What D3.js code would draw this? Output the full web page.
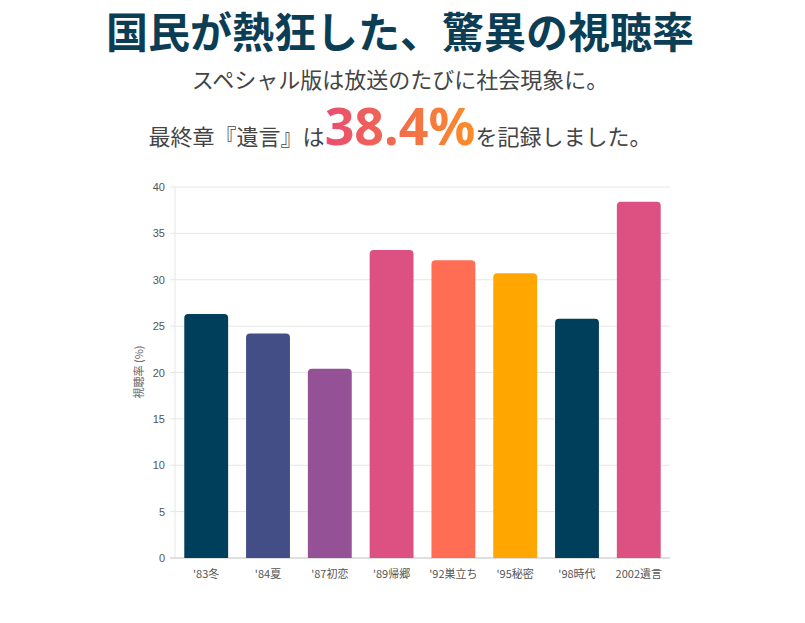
<!DOCTYPE html><html><head><meta charset="utf-8"><script src="https://cdn.jsdelivr.net/npm/d3@7"></script>
<style>body{margin:0;background:#fff;font-family:"Noto Sans CJK JP","Noto Sans",sans-serif}</style></head><body>
<svg id="c" width="805" height="623"></svg>
<script>
const categories=["'83冬","'84夏","'87初恋","'89帰郷","'92巣立ち","'95秘密","'98時代","2002遺言"];
const values=[26.3,24.2,20.4,33.2,32.1,30.7,25.8,38.4];
const colors=["#003f5c","#444e86","#955196","#dd5182","#ff6e54","#ffa600","#003f5c","#dd5182"];
const yTicks=[0,5,10,15,20,25,30,35,40];
const svg=d3.select("#c");
const defs=svg.append("defs");
const g=defs.append("linearGradient").attr("id","gr").attr("gradientUnits","userSpaceOnUse").attr("x1","320").attr("x2","480");
g.append("stop").attr("offset","0").attr("stop-color","#e84a74");
g.append("stop").attr("offset","1").attr("stop-color","#fd8f25");
svg.append("text").attr("x",400).attr("y",48).attr("text-anchor","middle").attr("font-size",42).attr("font-weight",700).attr("fill","#0b3e55").text("国民が熱狂した、驚異の視聴率");
svg.append("text").attr("x",400).attr("y",88).attr("text-anchor","middle").attr("font-size",22).attr("fill","#444").text("スペシャル版は放送のたびに社会現象に。");
const t=svg.append("text").attr("x",400).attr("y",145).attr("text-anchor","middle").attr("font-size",22).attr("fill","#444");
t.append("tspan").text("最終章『遺言』は");
t.append("tspan").attr("font-size",52).attr("font-weight",700).attr("fill","url(#gr)").attr("font-family","'Noto Sans',sans-serif").text("38.4%");
t.append("tspan").text("を記録しました。");
const x=d3.scaleBand().domain(categories).range([175,670]).paddingInner(0.29).paddingOuter(0.15);
const y=d3.scaleLinear().domain([0,40]).range([558,187]);
const grid=svg.append("g");
yTicks.forEach(v=>{grid.append("line").attr("x1",170).attr("x2",670).attr("y1",y(v)).attr("y2",y(v)).attr("stroke","#e6e6e6");
grid.append("text").attr("x",165).attr("y",y(v)+4).attr("text-anchor","end").attr("font-size",11).attr("fill","#555").attr("font-family","'Liberation Sans',sans-serif").text(v);});
svg.append("line").attr("x1",175).attr("x2",175).attr("y1",187).attr("y2",558).attr("stroke","#e6e6e6");
svg.append("line").attr("x1",170).attr("x2",670).attr("y1",558).attr("y2",558).attr("stroke","#ccc");
svg.selectAll("path.bar").data(values).join("path").attr("class","bar").attr("fill",(d,i)=>colors[i])
 .attr("d",(d,i)=>{const x0=x(categories[i]),w=x.bandwidth(),y0=y(d),b=y(0),r=4;
  return `M${x0},${b}V${y0+r}Q${x0},${y0} ${x0+r},${y0}H${x0+w-r}Q${x0+w},${y0} ${x0+w},${y0+r}V${b}Z`;});
svg.selectAll("text.cat").data(categories).join("text").attr("class","cat").attr("x",d=>x(d)+x.bandwidth()/2).attr("y",578).attr("text-anchor","middle").attr("font-size",11).attr("fill","#555").text(d=>d);
svg.append("text").attr("transform","translate(143,372) rotate(-90)").attr("text-anchor","middle").attr("font-size",11).attr("fill","#666").text("視聴率 (%)");
</script></body></html>
